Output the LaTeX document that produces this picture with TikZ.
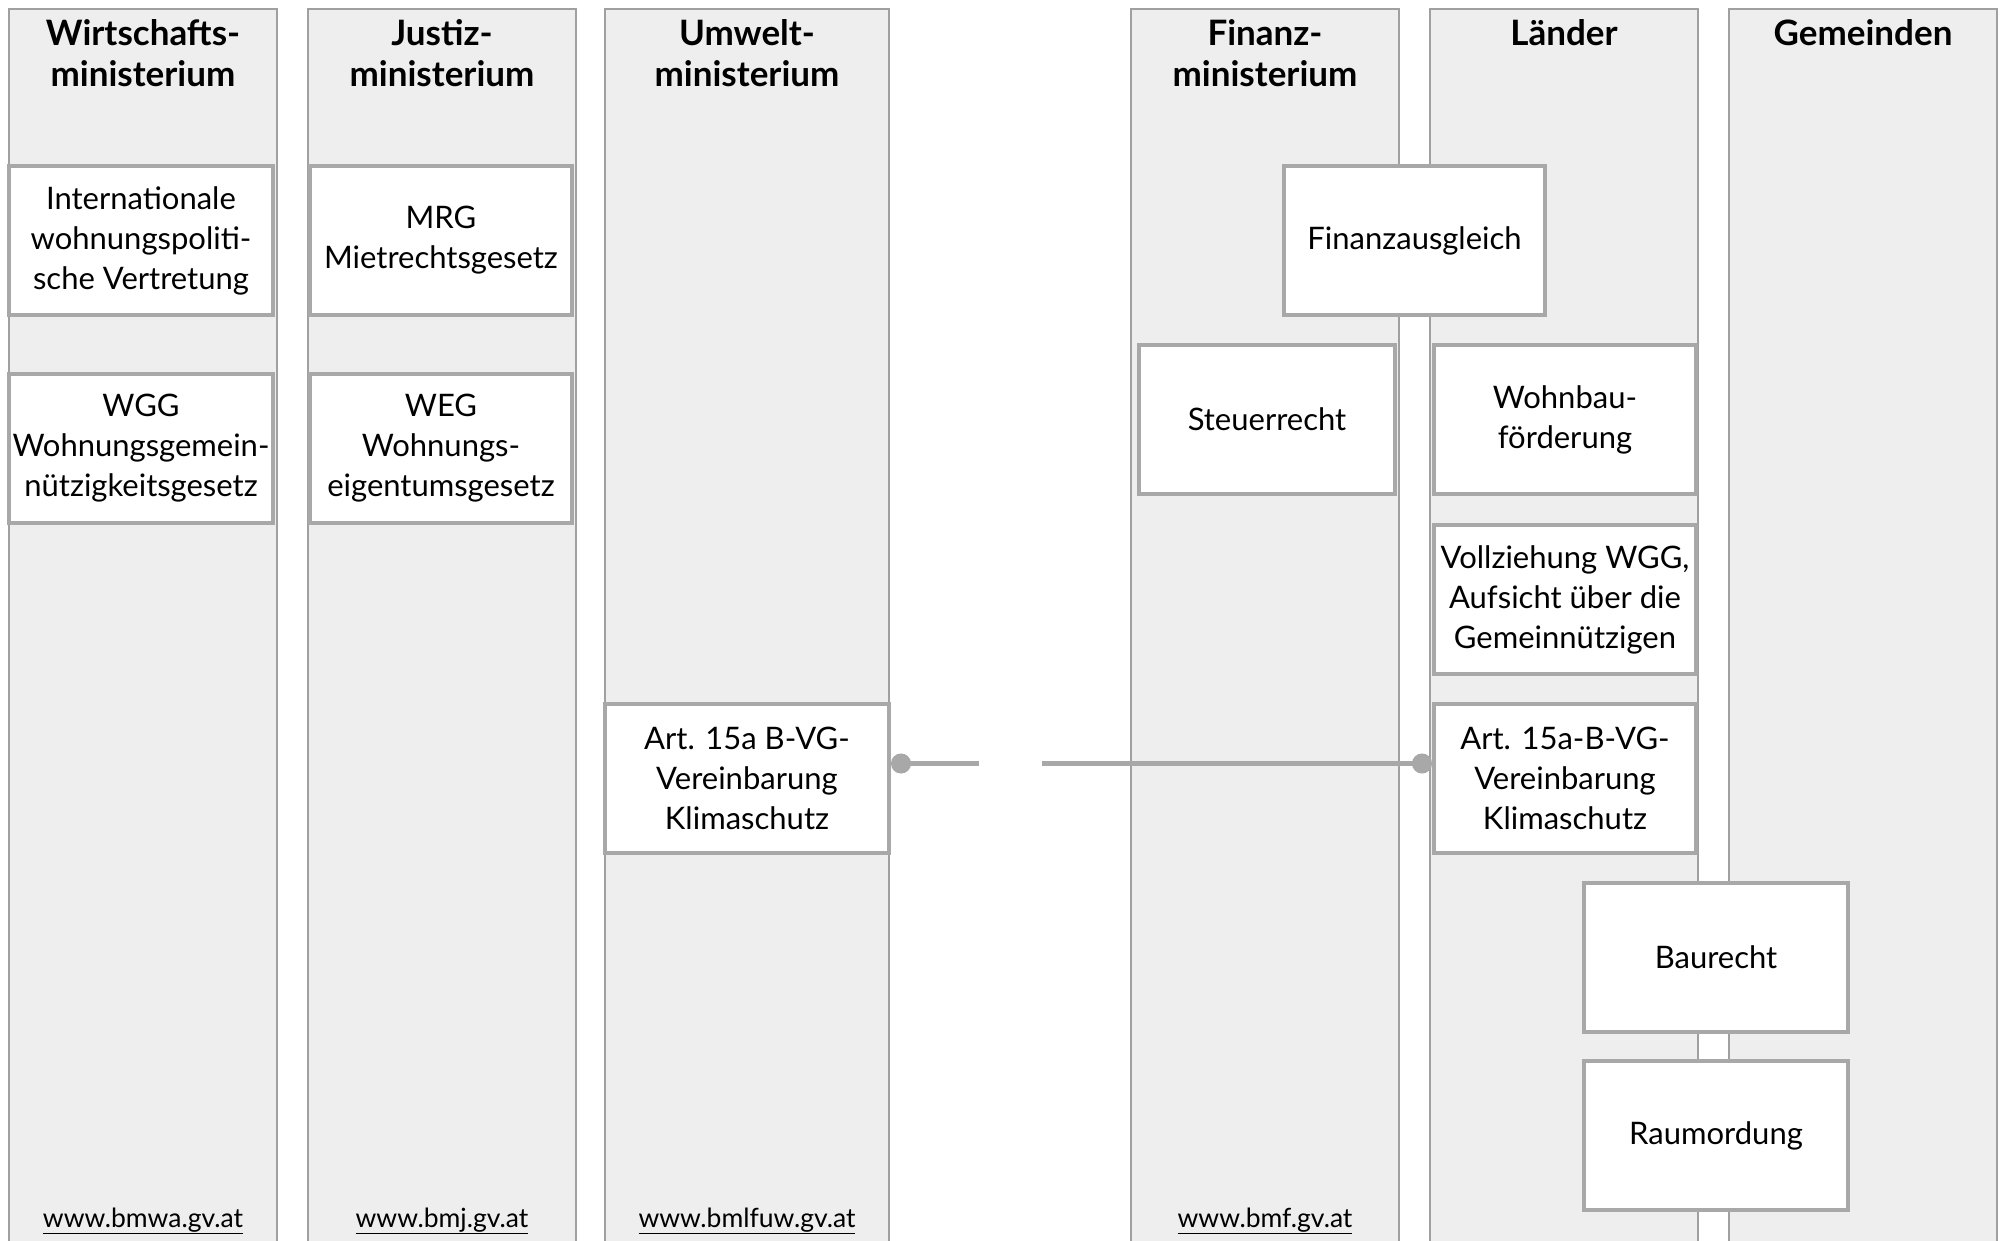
\documentclass[tikz,border=0pt]{standalone}
\usepackage{fontspec}
\setmainfont{Lato}
\usetikzlibrary{arrows.meta,calc}
\definecolor{colfill}{HTML}{EEEEEE}
\definecolor{colline}{HTML}{A0A0A0}
\definecolor{boxline}{HTML}{A8A8A8}
\tikzset{
  lane/.style={draw=colline, line width=1.3pt, fill=colfill},
  head/.style={font=\fontsize{35}{41}\selectfont\bfseries, align=center, inner sep=0pt},
  url/.style={font=\fontsize{26.5}{34}\selectfont, inner sep=0pt},
  box/.style={draw=boxline, line width=4pt, fill=white, align=center, inner sep=2pt,
    font=\fontsize{31}{40}\selectfont, minimum height=149pt},
  conn/.style={draw=boxline, line width=4.5pt},
}
\begin{document}
\begin{tikzpicture}[x=1pt,y=-1pt]
\useasboundingbox (0,0) rectangle (2002,1241);
% lanes
\path[lane] (9,9) rectangle (277,1260);
\path[lane] (308,9) rectangle (576,1260);
\path[lane] (605,9) rectangle (889,1260);
\path[lane] (1131,9) rectangle (1399,1260);
\path[lane] (1430,9) rectangle (1698,1260);
\path[lane] (1729,9) rectangle (1997,1260);
% headers
\node[head] (h1) at (143,53) {Wirtschafts-\\ministerium};
\node[head] (h2) at (442,53) {Justiz-\\ministerium};
\node[head] (h3) at (747,53) {Umwelt-\\ministerium};
\node[head] (h4) at (1265,53) {Finanz-\\ministerium};
\node[head] (h5) at (1564,33) {Länder};
\node[head] (h6) at (1863,33) {Gemeinden};
% urls
\node[url] (u1) at (143,1221) {\underline{www.bmwa.gv.at}};
\node[url] (u2) at (442,1221) {\underline{www.bmj.gv.at}};
\node[url] (u3) at (747,1221) {\underline{www.bmlfuw.gv.at}};
\node[url] (u4) at (1265,1221) {\underline{www.bmf.gv.at}};
% boxes
\node[box, minimum width=264pt] (b1) at (141,240.5) {Internationale\\wohnungspoliti-\\sche Vertretung};
\node[box, minimum width=264pt] (b2) at (141,448.5) {WGG\\Wohnungsgemein-\\nützigkeitsgesetz};
\node[box, minimum width=262pt] (b3) at (441,240.5) {MRG\\Mietrechtsgesetz};
\node[box, minimum width=262pt] (b4) at (441,448.5) {WEG\\Wohnungs-\\eigentumsgesetz};
\node[box, minimum width=284pt] (b5) at (747,778.5) {Art. 15a B-VG-\\Vereinbarung\\Klimaschutz};
\node[box, minimum width=261pt] (b6) at (1414.5,240.5) {Finanzausgleich};
\node[box, minimum width=256pt] (b7) at (1267,419.5) {Steuerrecht};
\node[box, minimum width=262pt] (b8) at (1565,419.5) {Wohnbau-\\förderung};
\node[box, minimum width=262pt] (b9) at (1565,599.5) {Vollziehung WGG,\\Aufsicht über die\\Gemeinnützigen};
\node[box, minimum width=262pt] (b10) at (1565,778.5) {Art. 15a-B-VG-\\Vereinbarung\\Klimaschutz};
\node[box, minimum width=264pt] (b11) at (1716,957) {Baurecht};
\node[box, minimum width=264pt] (b12) at (1716,1135.5) {Raumordung};
% connector
\coordinate (p1) at ($(b5.east)+(0,-15)$);
\coordinate (p2) at ($(b10.west)+(0,-15)$);
\coordinate (g1) at (979,763.5);
\coordinate (g2) at (1042,763.5);
\draw[conn, {Circle[length=20pt,width=20pt]}-] (p1) -- (g1);
\draw[conn, -{Circle[length=20pt,width=20pt]}] (g2) -- (p2);
\end{tikzpicture}
\end{document}
